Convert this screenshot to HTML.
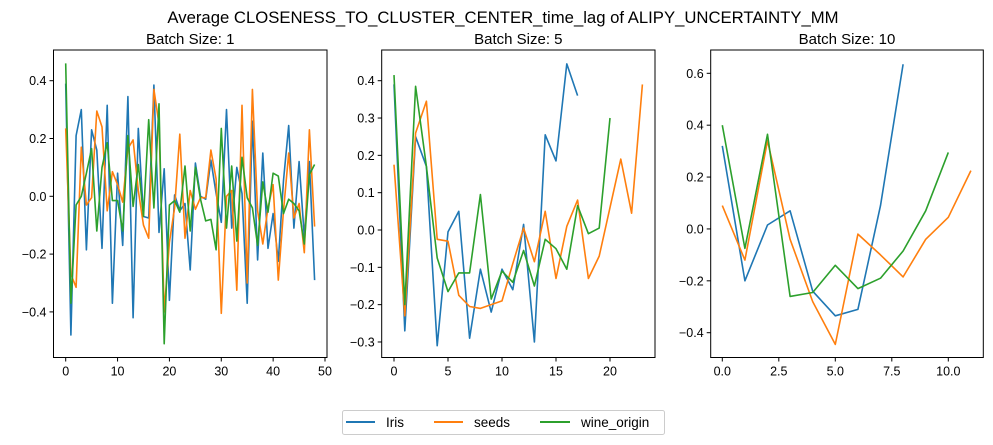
<!DOCTYPE html>
<html><head><meta charset="utf-8">
<style>
body{margin:0;background:#fff;}
svg{display:block;font-family:"Liberation Sans","DejaVu Sans",sans-serif;}
</style></head>
<body>
<svg id="chart" width="993" height="445" viewBox="0 0 993 445" xmlns="http://www.w3.org/2000/svg">
<rect width="993" height="445" fill="#fff"/>
<text x="503" y="23" text-anchor="middle" font-size="16.7" fill="#000">Average CLOSENESS_TO_CLUSTER_CENTER_time_lag of ALIPY_UNCERTAINTY_MM</text>
<g id="panels"></g>
<g>
<rect x="342.5" y="410.5" width="322" height="24" rx="2" fill="#fff" stroke="#ccc"/>
<line x1="346" y1="422" x2="375" y2="422" stroke="#1f77b4" stroke-width="2"/>
<text x="386" y="427" font-size="13.5">Iris</text>
<line x1="434" y1="422" x2="463" y2="422" stroke="#ff7f0e" stroke-width="2"/>
<text x="474" y="427" font-size="13.5">seeds</text>
<line x1="540" y1="422" x2="570" y2="422" stroke="#2ca02c" stroke-width="2"/>
<text x="581" y="427" font-size="13.5">wine_origin</text>
</g>
</svg>
<script>
const seriesNames=["Iris","seeds","wine_origin"];
const b1Iris=[0.39,-0.48,0.21,0.30,-0.185,0.23,0.16,-0.18,0.315,-0.37,0.08,-0.17,0.345,-0.42,0.235,-0.07,-0.075,0.385,-0.125,0.095,-0.36,0.005,-0.05,-0.025,-0.255,0.115,0,-0.01,0.125,0.01,-0.09,0.30,-0.11,0.10,0.01,-0.37,0.26,-0.22,0.15,-0.18,-0.06,-0.225,0.055,0.245,-0.11,0.12,-0.14,0.12,-0.29];
const b1Seeds=[0.235,-0.27,-0.315,0.17,-0.03,-0.005,0.295,0.24,-0.05,0.085,0.04,-0.02,0.165,0.195,0.02,-0.1,-0.145,0.37,0.25,-0.4,-0.16,-0.04,0.215,-0.145,0.02,-0.045,-0.005,-0.005,0.16,0.06,-0.405,0.0,0.02,-0.325,0.315,-0.3,0.37,-0.05,-0.165,-0.04,0.04,-0.29,-0.05,0.15,-0.075,-0.025,-0.195,0.23,-0.105];
const b1Wine=[0.46,-0.37,-0.03,0.0,0.08,0.165,-0.12,0.1,0.185,-0.015,-0.015,-0.12,0.21,-0.035,0.11,-0.07,0.265,-0.04,0.32,-0.51,-0.03,-0.015,-0.055,0.105,-0.12,0.1,-0.01,-0.085,-0.08,-0.185,0.235,-0.11,0.105,-0.155,0.135,-0.005,-0.04,-0.17,0.05,-0.055,0.08,0.07,-0.06,-0.01,-0.025,-0.05,-0.165,0.075,0.11];
const b5Iris=[0.39,-0.27,0.25,0.17,-0.31,-0.005,0.05,-0.29,-0.105,-0.22,-0.105,-0.16,0.015,-0.30,0.255,0.185,0.445,0.36];
const b5Seeds=[0.175,-0.23,0.26,0.345,-0.025,-0.03,-0.175,-0.205,-0.21,-0.2,-0.19,-0.09,0.005,-0.085,0.05,-0.13,0.01,0.08,-0.13,-0.07,0.06,0.19,0.045,0.39];
const b5Wine=[0.415,-0.2,0.385,0.17,-0.075,-0.165,-0.115,-0.115,0.095,-0.185,-0.11,-0.14,-0.055,-0.15,-0.025,-0.05,-0.105,0.065,-0.01,0.005,0.30];
const b10Iris=[0.32,-0.2,0.015,0.07,-0.24,-0.335,-0.31,0.09,0.635];
const b10Seeds=[0.09,-0.12,0.34,-0.04,-0.28,-0.445,-0.02,-0.1,-0.185,-0.04,0.045,0.225];
const b10Wine=[0.40,-0.075,0.365,-0.26,-0.245,-0.14,-0.23,-0.19,-0.085,0.07,0.295];
const xTicks1=[0,10,20,30,40,50];
const yTicks1=[-0.4,-0.2,0.0,0.2,0.4];
const xTicks2=[0,5,10,15,20];
const yTicks2=[-0.3,-0.2,-0.1,0.0,0.1,0.2,0.3,0.4];
const xTicks3=[0,2.5,5,7.5,10];
const yTicks3=[-0.4,-0.2,0.0,0.2,0.4,0.6];
const titles=["Batch Size: 1","Batch Size: 5","Batch Size: 10"];

const colors=["#1f77b4","#ff7f0e","#2ca02c"];
const NS="http://www.w3.org/2000/svg";
const root=document.getElementById("panels");
function mk(tag,attrs,parent){const e=document.createElementNS(NS,tag);for(const k in attrs)e.setAttribute(k,attrs[k]);parent.appendChild(e);return e;}
const panels=[
 {box:[53.5,50,327,357.5],xd:[0,50],xr:[65.7,325],yd:[0,0.4],yr:[196.3,80.7],xt:xTicks1,yt:yTicks1,xf:v=>String(v),yf:v=>v.toFixed(1),data:[b1Iris,b1Seeds,b1Wine]},
 {box:[381.7,50,655,357.5],xd:[0,20],xr:[394,610],yd:[0,0.4],yr:[230,80.7],xt:xTicks2,yt:yTicks2,xf:v=>String(v),yf:v=>v.toFixed(1),data:[b5Iris,b5Seeds,b5Wine]},
 {box:[710.7,50,983.3,357.5],xd:[0,10],xr:[722.3,948.3],yd:[-0.4,0.6],yr:[332.7,73.3],xt:xTicks3,yt:yTicks3,xf:v=>v.toFixed(1),yf:v=>v.toFixed(1),data:[b10Iris,b10Seeds,b10Wine]}
];
panels.forEach((p,pi)=>{
 const g=mk("g",{},root);
 
 
 const sx=v=>p.xr[0]+(v-p.xd[0])*(p.xr[1]-p.xr[0])/(p.xd[1]-p.xd[0]);
 const sy=v=>p.yr[0]+(v-p.yd[0])*(p.yr[1]-p.yr[0])/(p.yd[1]-p.yd[0]);
 const [l,t,r,b]=p.box;
 const tt=mk("text",{x:(l+r)/2,y:t-6,"text-anchor":"middle","font-size":"15"},g);
 tt.textContent=titles[pi];
 
 
 p.data.forEach((arr,si)=>{
  const pts=arr.map((v,i)=>sx(i).toFixed(1)+","+sy(v).toFixed(1)).join(" ");
  const pl=mk("polyline",{points:pts,fill:"none",stroke:colors[si],"stroke-width":"1.6","stroke-linejoin":"round"},g);
  
  
 });
 const fr=mk("rect",{x:l,y:t,width:r-l,height:b-t,fill:"none",stroke:"#000","stroke-width":"1"},g);
 
 
 p.xt.forEach(v=>{
  const x=sx(v);
  mk("line",{x1:x,y1:b,x2:x,y2:b+4,stroke:"#000"},g);
  const tx=mk("text",{x:x,y:b+18,"text-anchor":"middle","font-size":"12.5"},g);
  tx.textContent=p.xf(v);
  
  
 });
 p.yt.forEach(v=>{
  const y=sy(v);
  mk("line",{x1:l-4,y1:y,x2:l,y2:y,stroke:"#000"},g);
  const tx=mk("text",{x:l-7,y:y+4.5,"text-anchor":"end","font-size":"12.5"},g);
  tx.textContent=(v<0?"\u2212":"")+p.yf(Math.abs(v));
  
  
 });
});
</script>
</body></html>
